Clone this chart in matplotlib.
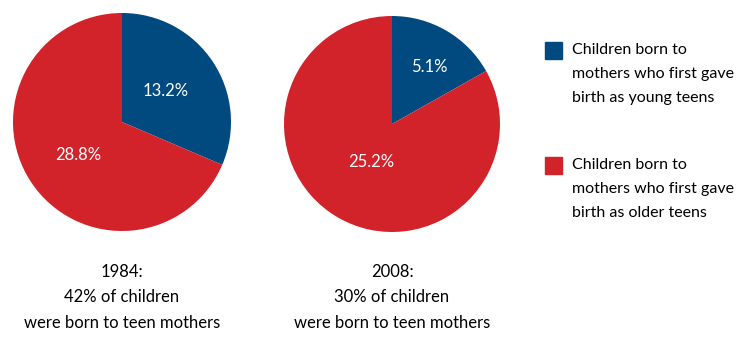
import matplotlib.pyplot as plt
from matplotlib.patches import Rectangle

plt.rcParams['font.family'] = ['Lato', 'DejaVu Sans']

years = ['1984', '2008']
young_teens = [13.2, 5.1]
older_teens = [28.8, 25.2]
totals = ['42%', '30%']
legend_labels = ['Children born to\nmothers who first gave\nbirth as young teens',
                 'Children born to\nmothers who first gave\nbirth as older teens']
colors = ['#004a80', '#d2232a']

W, H = 739, 338
fig = plt.figure(figsize=(W / 100, H / 100), dpi=100)

# pie boxes in pixels: (left, top, size)
boxes = [(13, 13, 218), (284, 16, 216)]
# label spots (in pie radius units) for young / older slices
label_xy = [[(0.40, 0.28), (-0.40, -0.30)], [(0.35, 0.53), (-0.19, -0.35)]]

for i in range(2):
    l, t, s = boxes[i]
    ax = fig.add_axes([l / W, 1 - (t + s) / H, s / W, s / H])
    vals = [young_teens[i], older_teens[i]]
    ax.pie(vals, colors=colors, startangle=90, counterclock=False,
           wedgeprops=dict(linewidth=0))
    ax.set_aspect('equal')
    ax.set_xlim(-1, 1)
    ax.set_ylim(-1, 1)
    for v, (x, y) in zip(vals, label_xy[i]):
        ax.text(x, y, f'{v:.1f}%', color='white', fontsize=12,
                ha='center', va='center')
    cx = (l + s / 2) / W
    fig.text(cx, 1 - 264 / H, f'{years[i]}:\n{totals[i]} of children\nwere born to teen mothers',
             ha='center', va='top', fontsize=12, linespacing=1.72)

# legend
for j, (lab, c) in enumerate(zip(legend_labels, colors)):
    top = 42 + j * 115
    fig.patches.append(Rectangle((545 / W, 1 - (top + 17) / H), 17 / W, 17 / H,
                                 transform=fig.transFigure, color=c))
    fig.text(572 / W, 1 - (top + 1) / H, lab, ha='left', va='top',
             fontsize=11.5, linespacing=1.9)

plt.savefig('out.png', dpi=100)
plt.close()
